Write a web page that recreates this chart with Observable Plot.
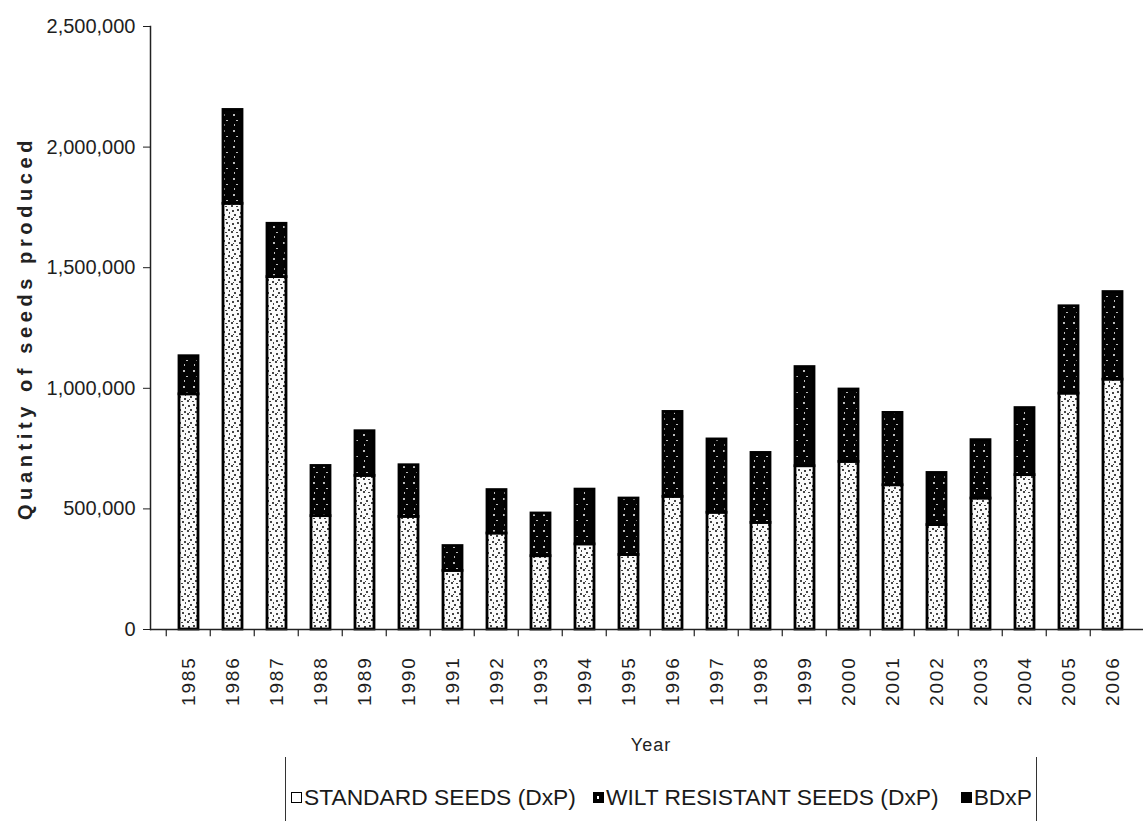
<!DOCTYPE html>
<html>
<head>
<meta charset="utf-8">
<script src="https://cdn.jsdelivr.net/npm/d3@7"></script>
<script src="https://cdn.jsdelivr.net/npm/@observablehq/plot@0.6"></script>
<style>
  html, body { margin: 0; padding: 0; background: #fff; }
  body { font-family: "Liberation Sans", Arial, sans-serif; color: #222; position: relative; width: 1143px; height: 821px; overflow: hidden; }
  #chart svg { display: block; }
  #legend {
    position: absolute; left: 285px; top: 757px; width: 752px; height: 70px;
    border-left: 1.5px solid #333; border-right: 1.5px solid #333;
    display: flex; align-items: flex-start; font-size: 22.8px; color: #1a1a1a;
    box-sizing: border-box; padding-left: 5px; padding-top: 28px; line-height: 24px;
  }
  .item { display: flex; align-items: center; white-space: nowrap; }
  .item + .item { margin-left: 17px; }
  .item:last-child { margin-left: 22px; }
  .swatch { width: 11px; height: 11px; border: 1.5px solid #000; margin-right: 2px; box-sizing: border-box; position: relative; }
</style>
</head>
<body>
<div id="chart"></div>
<div id="legend"></div>
<script>
// Seed production per year, split by seed type
const years = [1985, 1986, 1987, 1988, 1989, 1990, 1991, 1992, 1993, 1994, 1995,
               1996, 1997, 1998, 1999, 2000, 2001, 2002, 2003, 2004, 2005, 2006];
const standardSeeds = [975000, 1765000, 1461000, 470000, 637000, 467000, 243000, 398000, 304000, 353000, 309000,
                       550000, 484000, 442000, 677000, 695000, 598000, 433000, 543000, 640000, 978000, 1036000];
const wiltResistantSeeds = [158000, 389000, 221000, 208000, 185000, 214000, 103000, 180000, 177000, 227000, 234000,
                            352000, 304000, 290000, 411000, 300000, 300000, 216000, 242000, 278000, 362000, 363000];
const bdxpSeeds = [0, 0, 0, 0, 0, 0, 0, 0, 0, 0, 0,
                   0, 0, 0, 0, 0, 0, 0, 0, 0, 0, 0];
const seriesNames = ["STANDARD SEEDS (DxP)", "WILT RESISTANT SEEDS (DxP)", "BDxP"];
const yTicks = [0, 500000, 1000000, 1500000, 2000000, 2500000];
const yTitle = "Quantity of seeds produced";
const xTitle = "Year";

const seriesValues = [standardSeeds, wiltResistantSeeds, bdxpSeeds];
const rows = years.flatMap((yr, i) =>
  seriesNames.map((s, k) => ({year: String(yr), series: s, value: seriesValues[k][i]}))
).filter(d => d.value > 0);

const fills = ["url(#pat-standard)", "url(#pat-wilt)", "#000"];

const chart = Plot.plot({
  width: 1143,
  height: 760,
  marginLeft: 150,
  marginRight: -8,
  marginTop: 26,
  marginBottom: 131,
  style: {fontFamily: "Liberation Sans, Arial, sans-serif", fontSize: "20px", color: "#1e1e1e", background: "#fff"},
  x: {type: "band", domain: years.map(String), padding: 0.56, align: 0.5},
  y: {domain: [0, 2500000]},
  color: {domain: seriesNames, range: fills},
  marks: [
    Plot.barY(rows, Plot.stackY({order: seriesNames}, {
      x: "year", y: "value", fill: "series", stroke: "#000", strokeWidth: 2.8
    })),
    // axis lines
    Plot.frame({anchor: "left", stroke: "#222", strokeWidth: 1.5}),
    Plot.ruleY([0], {stroke: "#222", strokeWidth: 1.5}),
    // tick marks between the year bands
    Plot.ruleX(years.map(String), {x: d => d, dx: -22.75, y1: 0, y2: -30000, stroke: "#222", strokeWidth: 1.2}),
    Plot.axisY({
      ticks: yTicks, tickFormat: d3.format(","), tickSize: 7, tickPadding: 8,
      label: yTitle, labelAnchor: "center", labelOffset: 133
    }),
    Plot.axisX({
      tickSize: 0, tickRotate: -90, tickPadding: 27,
      label: xTitle, labelAnchor: "center", labelOffset: 121
    })
  ]
});

// Speckled fills for the two patterned series
const svg = d3.select(chart);
const defs = svg.insert("defs", ":first-child");
const pStd = defs.append("pattern").attr("id", "pat-standard")
  .attr("patternUnits", "userSpaceOnUse").attr("width", 11).attr("height", 13);
pStd.append("rect").attr("width", 11).attr("height", 13).attr("fill", "#fafafa");
[[1,2,2,2],[6,1,2,2],[3,6,2,2],[8,8,2,2],[0,10,2,2],[5,11,2,1],[9,4,1,2],[2,9,1,1]].forEach(([x, y, w, h]) =>
  pStd.append("rect").attr("x", x).attr("y", y).attr("width", w).attr("height", h).attr("fill", "#444"));
const pWilt = defs.append("pattern").attr("id", "pat-wilt")
  .attr("patternUnits", "userSpaceOnUse").attr("width", 10).attr("height", 16);
pWilt.append("rect").attr("width", 10).attr("height", 16).attr("fill", "#030303");
[[3,2,2,2],[6,8,2,1],[4,12,1,2]].forEach(([x, y, w, h]) =>
  pWilt.append("rect").attr("x", x).attr("y", y).attr("width", w).attr("height", h).attr("fill", "#bbb"));

// Axis title styling
svg.selectAll('g[aria-label="y-axis label"] text')
  .text(yTitle)
  .style("font-size", "20px").style("font-weight", "bold").style("letter-spacing", "4.6px").attr("fill", "#222");
svg.selectAll('g[aria-label="x-axis label"] text')
  .text(xTitle)
  .style("font-size", "18px").style("letter-spacing", "1px").attr("fill", "#222");
svg.selectAll('g[aria-label="x-axis tick label"] text')
  .style("font-size", "19px").style("letter-spacing", "1.8px");

document.getElementById("chart").appendChild(chart);

// Legend
const legend = d3.select("#legend");
seriesNames.forEach((name, k) => {
  const item = legend.append("div").attr("class", "item");
  const sw = item.append("div").attr("class", "swatch")
    .style("background", k === 0 ? "#fff" : "#000");
  if (k === 1) {
    sw.append("div").style("position", "absolute").style("left", "3px").style("top", "3px")
      .style("width", "2px").style("height", "3px").style("background", "#fff");
  }
  item.append("span").text(name);
});
</script>
</body>
</html>
